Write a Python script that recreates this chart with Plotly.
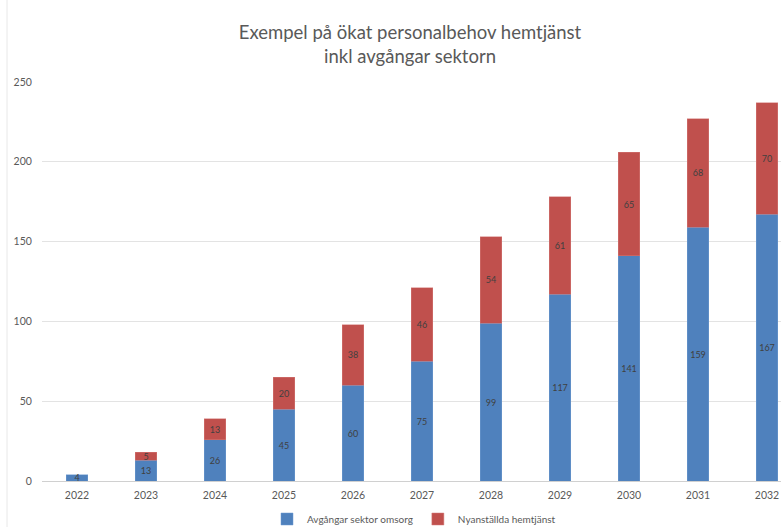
import plotly.graph_objects as go

years = ["2022", "2023", "2024", "2025", "2026", "2027", "2028", "2029", "2030", "2031", "2032"]
avgangar = [4, 13, 26, 45, 60, 75, 99, 117, 141, 159, 167]
nyanstallda = [None, 5, 13, 20, 38, 46, 54, 61, 65, 68, 70]
y_ticks = [0, 50, 100, 150, 200, 250]

W, H = 781, 527
L, R, T, B = 42, 0, 82, 46
FONT = "Lato, 'Open Sans', sans-serif"

fig = go.Figure()
fig.add_trace(go.Bar(
    x=years, y=avgangar, name="Avgångar sektor omsorg",
    marker=dict(color="#4f81bd", line=dict(color="#6f9bd0", width=0.5)),
    text=[str(v) for v in avgangar], textposition="inside", insidetextanchor="middle",
    textangle=0, constraintext="none",
    textfont=dict(size=9, color="#404040", family=FONT),
))
fig.add_trace(go.Bar(
    x=years, y=nyanstallda, name="Nyanställda hemtjänst",
    marker=dict(color="#c0504d", line=dict(color="#d47a78", width=0.5)),
    text=[("" if v is None else str(v)) for v in nyanstallda], textposition="inside",
    insidetextanchor="middle", textangle=0, constraintext="none",
    textfont=dict(size=9, color="#404040", family=FONT),
))

fig.update_layout(
    width=W, height=H,
    margin=dict(l=L, r=R, t=T, b=B, autoexpand=False),
    barmode="stack", bargap=0.69,
    plot_bgcolor="white", paper_bgcolor="white",
    font=dict(family=FONT, color="#595959"),
    title=dict(
        text="Exempel på ökat personalbehov hemtjänst<br>inkl avgångar sektorn",
        x=410 / W, xanchor="center", xref="container",
        y=1 - 39 / H, yanchor="middle", yref="container",
        font=dict(size=18.5, color="#595959", family=FONT),
    ),
    xaxis=dict(
        type="category", range=[-0.507, 10.203],
        showgrid=False, showline=False, zeroline=False,
        tickfont=dict(size=10.5, color="#595959"),
        ticks="outside", ticklen=4, tickcolor="rgba(0,0,0,0)",
    ),
    yaxis=dict(
        range=[0, 250], tickvals=y_ticks,
        showgrid=True, gridcolor="#e3e3e3", gridwidth=1,
        zeroline=True, zerolinecolor="#d0d0d0", zerolinewidth=1,
        showline=False,
        tickfont=dict(size=10.5, color="#595959"),
        ticks="outside", ticklen=7, tickcolor="rgba(0,0,0,0)",
    ),
    legend=dict(
        orientation="h", xref="container", yref="container",
        x=414 / W, xanchor="center", y=1 - 519 / H, yanchor="middle",
        font=dict(size=10, color="#595959"),
        itemwidth=30, traceorder="normal",
    ),
    shapes=[dict(
        type="line", xref="paper", yref="paper",
        x0=(7 - L) / (W - L - R), x1=(7 - L) / (W - L - R),
        y0=-0.2, y1=1.3, line=dict(color="#e8e8e8", width=1),
    )],
)

fig.write_html(
    "out.html",
    config={"displayModeBar": False},
    post_script="document.body.style.margin='0';document.body.style.overflow='hidden';",
)
